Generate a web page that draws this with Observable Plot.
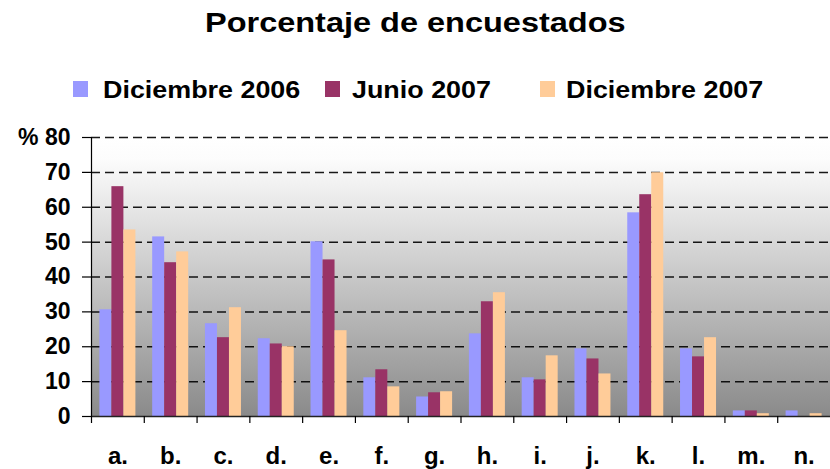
<!DOCTYPE html>
<html>
<head>
<meta charset="utf-8">
<script src="https://cdn.jsdelivr.net/npm/d3@7"></script>
<script src="https://cdn.jsdelivr.net/npm/@observablehq/plot@0.6"></script>
<style>
  html, body { margin: 0; padding: 0; background: #fff; }
  body { width: 830px; height: 469px; overflow: hidden; font-family: "Liberation Sans", Arial, sans-serif; }
  #header { position: relative; width: 830px; height: 120px; }
  #title { position: absolute; left: 0; top: 7px; width: 830px; text-align: center; font-size: 28px; font-weight: bold; color: #000; }
  #title span { display: inline-block; transform: scaleX(1.16); transform-origin: center; }
  .item { position: absolute; top: 76px; font-size: 24px; font-weight: bold; color: #000; white-space: nowrap; }
  .item .sw { position: absolute; top: 5px; width: 15px; height: 16px; }
  .item .lb { position: absolute; display: inline-block; transform: scaleX(1.12); transform-origin: left; }
  #chart svg { display: block; }
</style>
</head>
<body>
<div id="header">
  <div id="title"><span>Porcentaje de encuestados</span></div>
</div>
<div id="chart"></div>
<script>
const categories = ["a.", "b.", "c.", "d.", "e.", "f.", "g.", "h.", "i.", "j.", "k.", "l.", "m.", "n."];
const seriesNames = ["Diciembre 2006", "Junio 2007", "Diciembre 2007"];
const dic2006 = [30.6, 51.5, 26.6, 22.3, 50.1, 11.1, 5.6, 23.7, 11.1, 19.4, 58.4, 19.4, 1.6, 1.6];
const jun2007 = [65.9, 44.1, 22.6, 20.8, 44.9, 13.4, 6.8, 32.9, 10.5, 16.5, 63.6, 17.1, 1.6, 0];
const dic2007 = [53.5, 47.2, 31.2, 20.0, 24.6, 8.5, 7.1, 35.5, 17.4, 12.2, 69.9, 22.6, 0.8, 0.8];
const yTicks = [0, 10, 20, 30, 40, 50, 60, 70, 80];
const colors = ["#9999ff", "#993366", "#ffcc99"];

const seriesValues = [dic2006, jun2007, dic2007];

// legend
const header = document.getElementById("header");
const legendPos = [[73, 103], [325, 352], [540, 566]];
seriesNames.forEach((name, i) => {
  const it = document.createElement("div");
  it.className = "item";
  it.style.left = "0px";
  const sw = document.createElement("span");
  sw.className = "sw";
  sw.style.left = legendPos[i][0] + "px";
  sw.style.background = colors[i];
  const lb = document.createElement("span");
  lb.className = "lb";
  lb.style.left = legendPos[i][1] + "px";
  lb.textContent = name;
  it.appendChild(sw);
  it.appendChild(lb);
  header.appendChild(it);
});

const width = 830, height = 349;
const marginLeft = 91, marginRight = 0, marginTop = 17, marginBottom = 53;
const band = (width - marginLeft - marginRight) / categories.length;
const barW = 12;
const inset = (band - barW) / 2;

const defs = () => {
  const ns = "http://www.w3.org/2000/svg";
  const d = document.createElementNS(ns, "defs");
  const g = document.createElementNS(ns, "linearGradient");
  g.setAttribute("id", "bgGrad");
  g.setAttribute("x1", "0"); g.setAttribute("y1", "0");
  g.setAttribute("x2", "0"); g.setAttribute("y2", "1");
  [["0%", "#ffffff"], ["8%", "#fcfcfc"], ["100%", "#8a8a8a"]].forEach(([o, c]) => {
    const s = document.createElementNS(ns, "stop");
    s.setAttribute("offset", o);
    s.setAttribute("stop-color", c);
    g.appendChild(s);
  });
  d.appendChild(g);
  return d;
};

const barMarks = seriesValues.map((vals, si) =>
  Plot.barY(
    categories.map((c, i) => ({cat: c, serie: seriesNames[si], value: vals[i]})),
    {x: "cat", y: "value", fill: colors[si], insetLeft: inset, insetRight: inset, dx: (si - 1) * barW}
  )
);

const chart = Plot.plot({
  width, height, marginLeft, marginRight, marginTop, marginBottom,
  style: {fontFamily: "'Liberation Sans', Arial, sans-serif", background: "transparent"},
  x: {domain: categories, padding: 0, round: false},
  y: {domain: [0, 80]},
  marks: [
    defs,
    Plot.frame({fill: "url(#bgGrad)", stroke: null}),
    Plot.gridY(yTicks.filter(d => d > 0), {stroke: "#000", strokeOpacity: 0.9, strokeWidth: 1.5, strokeDasharray: "9,5"}),
    ...barMarks,
    Plot.ruleY([0], {stroke: "#222", strokeWidth: 1.5}),
    Plot.frame({anchor: "left", stroke: "#000", strokeWidth: 1.2}),
    Plot.axisY({ticks: yTicks, tickSize: 9, tickPadding: 12, stroke: "#000", strokeWidth: 1.2,
      tickFormat: d => d === 80 ? "% 80" : String(d), fontSize: 23, fontWeight: "bold", fill: "#000", label: null}),
    Plot.axisX({tickSize: 7, tickFormat: () => "", dx: -band / 2, stroke: "#000", strokeWidth: 1.2, label: null}),
    Plot.axisX({tickSize: 0, tickPadding: 30, fontSize: 24, fontWeight: "bold", fill: "#000", label: null})
  ]
});
document.getElementById("chart").appendChild(chart);
</script>
</body>
</html>
